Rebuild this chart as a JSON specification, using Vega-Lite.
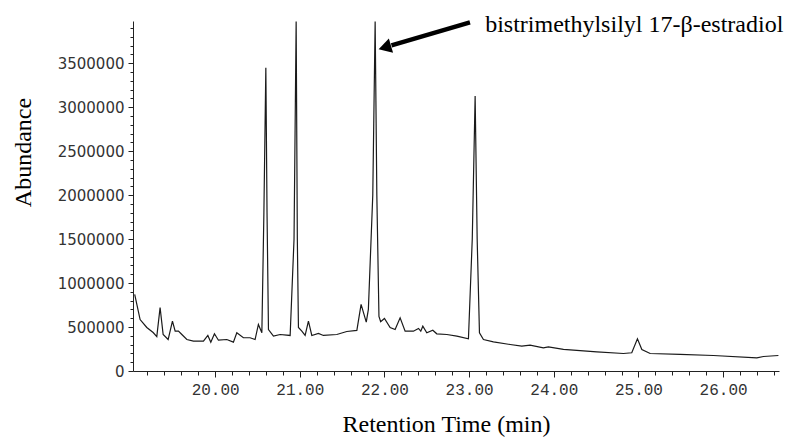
{
  "$schema": "https://vega.github.io/schema/vega-lite/v6.json",
  "width": 646,
  "height": 350,
  "autosize": {"type": "none"},
  "padding": {"left": 133, "top": 21, "right": 10, "bottom": 73},
  "background": "white",
  "config": {"view": {"stroke": null}},
  "datasets": {
    "chrom": [
      {"t": 19.05, "a": 870000}, {"t": 19.114, "a": 585000}, {"t": 19.193, "a": 495000}, {"t": 19.268, "a": 438000},
      {"t": 19.311, "a": 392000}, {"t": 19.35, "a": 722000}, {"t": 19.386, "a": 415000}, {"t": 19.445, "a": 358000},
      {"t": 19.496, "a": 567000}, {"t": 19.528, "a": 453000}, {"t": 19.567, "a": 453000}, {"t": 19.607, "a": 415000},
      {"t": 19.666, "a": 358000}, {"t": 19.744, "a": 339000}, {"t": 19.862, "a": 339000}, {"t": 19.914, "a": 404000},
      {"t": 19.949, "a": 328000}, {"t": 19.992, "a": 423000}, {"t": 20.039, "a": 350000}, {"t": 20.138, "a": 358000},
      {"t": 20.216, "a": 328000}, {"t": 20.256, "a": 435000}, {"t": 20.334, "a": 378000}, {"t": 20.413, "a": 378000},
      {"t": 20.472, "a": 358000}, {"t": 20.511, "a": 529000}, {"t": 20.552, "a": 435000}, {"t": 20.576, "a": 1800000},
      {"t": 20.599, "a": 3449000}, {"t": 20.613, "a": 1800000}, {"t": 20.63, "a": 472000}, {"t": 20.689, "a": 396000},
      {"t": 20.768, "a": 415000}, {"t": 20.886, "a": 404000}, {"t": 20.932, "a": 1500000}, {"t": 20.957, "a": 3975000},
      {"t": 20.971, "a": 1500000}, {"t": 20.984, "a": 495000}, {"t": 21.024, "a": 453000}, {"t": 21.063, "a": 404000},
      {"t": 21.102, "a": 567000}, {"t": 21.142, "a": 404000}, {"t": 21.22, "a": 427000}, {"t": 21.279, "a": 404000},
      {"t": 21.437, "a": 415000}, {"t": 21.555, "a": 449000}, {"t": 21.674, "a": 461000}, {"t": 21.724, "a": 757000},
      {"t": 21.785, "a": 555000}, {"t": 21.81, "a": 700000}, {"t": 21.862, "a": 2000000}, {"t": 21.89, "a": 3975000},
      {"t": 21.91, "a": 2000000}, {"t": 21.935, "a": 620000}, {"t": 21.955, "a": 560000}, {"t": 22.0, "a": 597000},
      {"t": 22.067, "a": 495000}, {"t": 22.126, "a": 472000},
      {"t": 22.185, "a": 605000}, {"t": 22.244, "a": 453000}, {"t": 22.342, "a": 453000}, {"t": 22.402, "a": 484000},
      {"t": 22.429, "a": 453000}, {"t": 22.453, "a": 510000}, {"t": 22.5, "a": 435000}, {"t": 22.571, "a": 464000},
      {"t": 22.618, "a": 423000}, {"t": 22.737, "a": 415000}, {"t": 22.855, "a": 396000}, {"t": 22.992, "a": 366000},
      {"t": 23.037, "a": 1500000}, {"t": 23.071, "a": 3126000}, {"t": 23.095, "a": 1500000}, {"t": 23.122, "a": 435000},
      {"t": 23.169, "a": 358000}, {"t": 23.287, "a": 332000}, {"t": 23.484, "a": 301000}, {"t": 23.622, "a": 282000},
      {"t": 23.72, "a": 294000}, {"t": 23.877, "a": 264000}, {"t": 23.936, "a": 275000}, {"t": 24.114, "a": 245000},
      {"t": 24.508, "a": 218000}, {"t": 24.822, "a": 199000}, {"t": 24.921, "a": 207000}, {"t": 24.988, "a": 366000},
      {"t": 25.04, "a": 245000}, {"t": 25.138, "a": 199000}, {"t": 25.492, "a": 188000}, {"t": 25.885, "a": 176000},
      {"t": 26.398, "a": 150000}, {"t": 26.476, "a": 165000}, {"t": 26.653, "a": 176000}
    ],
    "arrow": [{"t": 23.01, "a": 3965000, "t2": 22.083, "a2": 3702000}],
    "head": [{"t": 22.004, "a": 3680000}],
    "label": [{"t": 23.189, "a": 3851000, "text": "bistrimethylsilyl 17-β-estradiol"}]
  },
  "layer": [
    {
      "data": {"name": "chrom"},
      "mark": {"type": "line", "color": "#1a1a1a", "strokeWidth": 1.2, "clip": true, "interpolate": "linear"},
      "encoding": {
        "x": {
          "field": "t", "type": "quantitative",
          "scale": {"domain": [19.03, 26.66], "nice": false, "zero": false},
          "axis": {
            "title": "Retention Time (min)",
            "titleFont": "Liberation Serif", "titleFontSize": 24, "titleFontWeight": "normal", "titleColor": "#000",
            "titleX": 313, "titleY": 60, "titleBaseline": "alphabetic", "titleAlign": "center", "titleAnchor": null,
            "tickCount": 200,
            "values": [19.2, 19.4, 19.6, 19.8, 20, 20.2, 20.4, 20.6, 20.8, 21, 21.2, 21.4, 21.6, 21.8, 22, 22.2, 22.4, 22.6, 22.8, 23, 23.2, 23.4, 23.6, 23.8, 24, 24.2, 24.4, 24.6, 24.8, 25, 25.2, 25.4, 25.6, 25.8, 26, 26.2, 26.4, 26.6],
            "labelExpr": "abs(datum.value - round(datum.value)) < 0.01 ? format(datum.value, '.2f') : ''",
            "labelFont": "Liberation Mono", "labelFontSize": 16, "labelColor": "#333", "labelPadding": 4,
            "labelOverlap": false, "labelFlush": false,
            "tickSize": {"condition": {"test": "abs(datum.value - round(datum.value)) < 0.01", "value": 6}, "value": 4},
            "tickColor": "#222", "domainColor": "#222", "grid": false
          }
        },
        "y": {
          "field": "a", "type": "quantitative",
          "scale": {"domain": [0, 3980000], "nice": false},
          "axis": {
            "title": "Abundance",
            "titleFont": "Liberation Serif", "titleFontSize": 24, "titleFontWeight": "normal", "titleColor": "#000",
            "titleX": -103, "titleY": 131, "titleAngle": 270, "titleBaseline": "alphabetic", "titleAlign": "center", "titleAnchor": null,
            "tickCount": 200,
            "values": [0, 100000, 200000, 300000, 400000, 500000, 600000, 700000, 800000, 900000, 1000000, 1100000, 1200000, 1300000, 1400000, 1500000, 1600000, 1700000, 1800000, 1900000, 2000000, 2100000, 2200000, 2300000, 2400000, 2500000, 2600000, 2700000, 2800000, 2900000, 3000000, 3100000, 3200000, 3300000, 3400000, 3500000, 3600000, 3700000, 3800000, 3900000],
            "labelExpr": "datum.value % 500000 == 0 ? format(datum.value, 'd') : ''",
            "labelFont": "DejaVu Sans", "labelFontSize": 15, "labelColor": "#333", "labelPadding": 4,
            "labelOverlap": false, "labelFlush": false,
            "tickSize": {"condition": {"test": "datum.value % 500000 == 0", "value": 5}, "value": 3},
            "tickColor": "#222", "domainColor": "#222", "grid": false
          }
        }
      }
    },
    {
      "data": {"name": "arrow"},
      "mark": {"type": "rule", "color": "#000", "strokeWidth": 4.5, "clip": false},
      "encoding": {
        "x": {"field": "t", "type": "quantitative"},
        "y": {"field": "a", "type": "quantitative"},
        "x2": {"field": "t2"},
        "y2": {"field": "a2"}
      }
    },
    {
      "data": {"name": "head"},
      "mark": {"type": "point", "shape": "triangle-left", "filled": true, "color": "#000", "size": 220, "angle": 343.6, "opacity": 1, "clip": false},
      "encoding": {
        "x": {"field": "t", "type": "quantitative"},
        "y": {"field": "a", "type": "quantitative"}
      }
    },
    {
      "data": {"name": "label"},
      "mark": {"type": "text", "font": "Liberation Serif", "fontSize": 24, "align": "left", "baseline": "alphabetic", "color": "#000", "clip": false},
      "encoding": {
        "x": {"field": "t", "type": "quantitative"},
        "y": {"field": "a", "type": "quantitative"},
        "text": {"field": "text"}
      }
    }
  ]
}
